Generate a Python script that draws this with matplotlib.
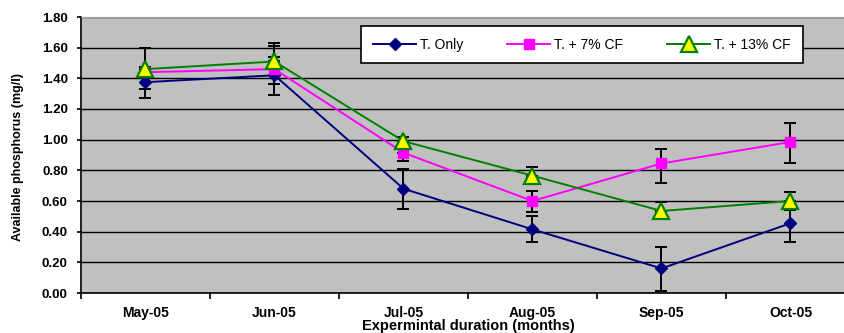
import matplotlib.pyplot as plt
from matplotlib.ticker import FixedLocator, FixedFormatter

plt.rcParams['font.family'] = ['Liberation Sans', 'DejaVu Sans']

months = ['May-05', 'Jun-05', 'Jul-05', 'Aug-05', 'Sep-05', 'Oct-05']

t_only = [1.375, 1.42, 0.68, 0.415, 0.16, 0.455]
t_only_lo = [0.105, 0.13, 0.13, 0.08, 0.15, 0.125]
t_only_hi = [0.10, 0.12, 0.13, 0.085, 0.14, 0.085]

t_7cf = [1.44, 1.46, 0.915, 0.60, 0.845, 0.985]
t_7cf_lo = [0.11, 0.10, 0.055, 0.07, 0.125, 0.135]
t_7cf_hi = [0.0, 0.15, 0.0, 0.067, 0.095, 0.125]

t_13cf = [1.46, 1.51, 0.99, 0.765, 0.535, 0.60]
t_13cf_lo = [0.0, 0.0, 0.0, 0.0, 0.0, 0.0]
t_13cf_hi = [0.14, 0.12, 0.03, 0.06, 0.06, 0.057]

x = list(range(len(months)))

fig = plt.figure(figsize=(8.45, 3.33), dpi=100, facecolor='white')
ax = fig.add_axes([81 / 845, 40 / 333, 774 / 845, 276 / 333])
ax.set_facecolor('#C0C0C0')

series = [
    (t_only, t_only_lo, t_only_hi, 'T. Only', dict(color='#000080', marker='D', markersize=6,
                                                   markerfacecolor='#000080', markeredgecolor='#000080')),
    (t_7cf, t_7cf_lo, t_7cf_hi, 'T. + 7% CF', dict(color='#FF00FF', marker='s', markersize=6.5,
                                                    markerfacecolor='#FF00FF', markeredgecolor='#FF00FF')),
    (t_13cf, t_13cf_lo, t_13cf_hi, 'T. + 13% CF', dict(color='#008000', marker='^', markersize=11,
                                                        markerfacecolor='#FFFF00', markeredgecolor='#008000',
                                                        markeredgewidth=1.6)),
]

for vals, lo, hi, label, style in series:
    ax.errorbar(x, vals, yerr=[lo, hi], fmt='none', ecolor='black', elinewidth=1.4,
                capsize=4.5, capthick=1.4, zorder=3)
    ax.plot(x, vals, linewidth=1.4, label=label, zorder=4, **style)

ax.set_xlim(-0.5, 5.5)
ax.set_ylim(0, 1.8)
yt = [i * 0.2 for i in range(10)]
ax.set_yticks(yt)
ax.set_yticklabels(['%.2f' % v for v in yt], fontsize=9.5, fontweight='bold')
ax.yaxis.grid(True, color='black', linewidth=1.0)
ax.set_axisbelow(True)

ax.xaxis.set_major_locator(FixedLocator([i - 0.5 for i in range(7)]))
ax.xaxis.set_major_formatter(FixedFormatter([''] * 7))
ax.xaxis.set_minor_locator(FixedLocator(x))
ax.xaxis.set_minor_formatter(FixedFormatter(months))
ax.tick_params(axis='x', which='major', length=4, width=1.2, direction='out')
ax.tick_params(axis='x', which='minor', length=0, pad=9.5, labelsize=10)
for t in ax.xaxis.get_minorticklabels():
    t.set_fontweight('bold')
ax.tick_params(axis='y', length=3, width=1.2, pad=6.5)

ax.spines['left'].set_color('black')
ax.spines['left'].set_linewidth(1.2)
ax.spines['bottom'].set_color('black')
ax.spines['bottom'].set_linewidth(1.2)
ax.spines['top'].set_color('#A0A0A0')
ax.spines['right'].set_visible(False)

fig.text(468 / 845, 1 - 326 / 333, 'Expermintal duration (months)', fontsize=10.5,
         fontweight='bold', ha='center', va='center')
fig.text(0.021, 0.53, 'Available phosphorus (mg/l)', rotation=90, fontsize=9,
         fontweight='bold', ha='center', va='center')

leg = ax.legend(loc='upper left', bbox_to_anchor=(0.362, 0.968), ncol=3, fontsize=10,
                frameon=True, fancybox=False, framealpha=1, edgecolor='black',
                handlelength=3.1, handletextpad=0.3, columnspacing=3.15,
                borderpad=0.85, borderaxespad=0)
leg.get_frame().set_linewidth(1.2)

fig.savefig('out.png', dpi=100, facecolor='white')
